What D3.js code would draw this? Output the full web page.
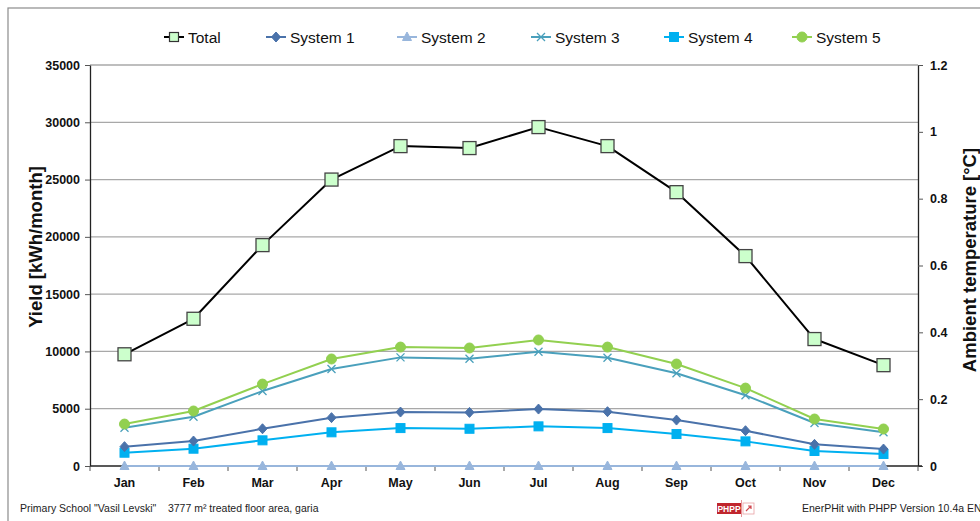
<!DOCTYPE html>
<html>
<head>
<meta charset="utf-8">
<script src="https://cdn.jsdelivr.net/npm/d3@7/dist/d3.min.js"></script>
<style>
  html, body { margin: 0; padding: 0; background: #fff; }
  svg { display: block; font-family: "Liberation Sans", Arial, sans-serif; }
</style>
</head>
<body>
<svg id="chart" width="980" height="521"></svg>
<script>
const months = ["Jan","Feb","Mar","Apr","May","Jun","Jul","Aug","Sep","Oct","Nov","Dec"];
const total   = [9750, 12850, 19280, 25000, 27920, 27750, 29580, 27920, 23900, 18320, 11080, 8800];
const system1 = [1690, 2180, 3250, 4220, 4710, 4680, 4970, 4740, 4010, 3080, 1890, 1480];
const system2 = [0, 0, 0, 0, 0, 0, 0, 0, 0, 0, 0, 0];
const system3 = [3340, 4300, 6540, 8460, 9480, 9360, 9970, 9450, 8090, 6170, 3750, 2940];
const system4 = [1160, 1510, 2240, 2940, 3310, 3250, 3460, 3310, 2790, 2150, 1310, 1050];
const system5 = [3660, 4800, 7150, 9340, 10380, 10300, 11000, 10380, 8900, 6800, 4100, 3230];
const leftTicks = [0, 5000, 10000, 15000, 20000, 25000, 30000, 35000];
const rightTicks = [0, 0.2, 0.4, 0.6, 0.8, 1, 1.2];

const series = [
  {name: "Total",    values: total,   color: "#000000", marker: "bigsquare", fill: "#ccffcc", lw: 2},
  {name: "System 1", values: system1, color: "#4a72aa", marker: "diamond", fill: "#4a72aa", lw: 2},
  {name: "System 2", values: system2, color: "#98b6dc", marker: "triangle", fill: "#98b6dc", lw: 2},
  {name: "System 3", values: system3, color: "#4aa0bc", marker: "x", fill: "none", lw: 2},
  {name: "System 4", values: system4, color: "#00b0f0", marker: "square", fill: "#00b0f0", lw: 2},
  {name: "System 5", values: system5, color: "#92d050", marker: "circle", fill: "#92d050", lw: 2}
];

const svg = d3.select("#chart");
const L = 90, R = 918, T = 65, B = 466;

// outer frame
svg.append("rect").attr("x", 8).attr("y", 8).attr("width", 990).attr("height", 530)
  .attr("fill", "none").attr("stroke", "#8c8c8c").attr("stroke-width", 1.2);

const x = d3.scaleBand().domain(months).range([L, R]).padding(0);
const y = d3.scaleLinear().domain([0, 35000]).range([B, T]);
const y2 = d3.scaleLinear().domain([0, 1.2]).range([B, T]);

// gridlines
svg.append("g").selectAll("line").data(leftTicks.filter(d => d > 0)).join("line")
  .attr("x1", L).attr("x2", R).attr("y1", d => y(d)).attr("y2", d => y(d))
  .attr("stroke", "#a8a8a8").attr("stroke-width", 1.3);

// left axis
const gl = svg.append("g").attr("transform", `translate(${L},0)`)
  .call(d3.axisLeft(y).tickValues(leftTicks).tickFormat(d3.format("d")).tickSizeInner(5).tickSizeOuter(0).tickPadding(5));
gl.select(".domain").attr("stroke", "#222").attr("stroke-width", 1.3);
gl.selectAll(".tick line").attr("stroke", "#555");
gl.selectAll("text").attr("font-size", 12.5).attr("font-weight", "bold").attr("fill", "#111")
  .attr("font-family", "Liberation Sans, Arial, sans-serif");

// right axis
const gr = svg.append("g").attr("transform", `translate(${R},0)`)
  .call(d3.axisRight(y2).tickValues(rightTicks).tickFormat(d => d3.format("")(d)).tickSizeInner(5).tickSizeOuter(0).tickPadding(7));
gr.select(".domain").attr("stroke", "#222").attr("stroke-width", 1.3);
gr.selectAll(".tick line").attr("stroke", "#555");
gr.selectAll("text").attr("font-size", 12.5).attr("font-weight", "bold").attr("fill", "#111")
  .attr("font-family", "Liberation Sans, Arial, sans-serif");

// bottom axis
const xb = d3.scaleLinear().domain([0, 12]).range([L, R]);
svg.append("line").attr("x1", L).attr("x2", R + 4).attr("y1", B).attr("y2", B)
  .attr("stroke", "#222").attr("stroke-width", 1.3);
svg.append("g").selectAll("line").data(d3.range(0, 13)).join("line")
  .attr("x1", d => xb(d)).attr("x2", d => xb(d)).attr("y1", B).attr("y2", B + 5)
  .attr("stroke", "#555").attr("stroke-width", 1);
svg.append("g").selectAll("text").data(months).join("text")
  .attr("x", d => x(d) + x.bandwidth() / 2).attr("y", 487)
  .attr("text-anchor", "middle").attr("font-size", 12.5).attr("font-weight", "bold").attr("fill", "#111")
  .text(d => d);

// axis titles
svg.append("text").attr("transform", "translate(42,247) rotate(-90)")
  .attr("text-anchor", "middle").attr("font-size", 18.5).attr("font-weight", "bold").attr("fill", "#111")
  .text("Yield [kWh/month]");
svg.append("text").attr("transform", "translate(976,260) rotate(-90)")
  .attr("text-anchor", "middle").attr("font-size", 18.5).attr("font-weight", "bold").attr("fill", "#111")
  .text("Ambient temperature [°C]");

function drawMarker(g, type, cx, cy, color, fill) {
  if (type === "bigsquare") {
    g.append("rect").attr("x", cx - 6.5).attr("y", cy - 6.5).attr("width", 13).attr("height", 13)
      .attr("fill", fill).attr("stroke", "#444").attr("stroke-width", 1.3);
  } else if (type === "square") {
    g.append("rect").attr("x", cx - 4.5).attr("y", cy - 4.5).attr("width", 9).attr("height", 9)
      .attr("fill", fill).attr("stroke", color).attr("stroke-width", 1);
  } else if (type === "diamond") {
    g.append("path").attr("d", `M${cx},${cy-5}L${cx+4.5},${cy}L${cx},${cy+5}L${cx-4.5},${cy}Z`)
      .attr("fill", fill).attr("stroke", color);
  } else if (type === "triangle") {
    g.append("path").attr("d", `M${cx},${cy-5}L${cx+4.5},${cy+3.5}L${cx-4.5},${cy+3.5}Z`)
      .attr("fill", fill).attr("stroke", color);
  } else if (type === "x") {
    g.append("path").attr("d", `M${cx-4},${cy-4}L${cx+4},${cy+4}M${cx-4},${cy+4}L${cx+4},${cy-4}`)
      .attr("stroke", color).attr("stroke-width", 1.3).attr("fill", "none");
  } else if (type === "circle") {
    g.append("circle").attr("cx", cx).attr("cy", cy).attr("r", 5).attr("fill", fill).attr("stroke", color);
  }
}

// series (draw in order so Total on top)
const drawOrder = [2, 4, 1, 3, 5, 0];
const line = d3.line().x((d, i) => x(months[i]) + x.bandwidth() / 2).y(d => y(d));
drawOrder.forEach(si => {
  const s = series[si];
  const g = svg.append("g");
  g.append("path").datum(s.values).attr("d", line).attr("fill", "none")
    .attr("stroke", s.color).attr("stroke-width", s.lw).attr("stroke-linejoin", "round");
  s.values.forEach((v, i) => drawMarker(g, s.marker, x(months[i]) + x.bandwidth() / 2, y(v), s.color, s.fill));
});

// legend
const legendX = [174, 276, 407, 541, 674, 802];
series.forEach((s, i) => {
  const g = svg.append("g");
  const cx = legendX[i];
  g.append("line").attr("x1", cx - 10).attr("x2", cx + 10).attr("y1", 37).attr("y2", 37)
    .attr("stroke", s.color).attr("stroke-width", 2);
  if (s.marker === "bigsquare") {
    g.append("rect").attr("x", cx - 4.5).attr("y", 32.5).attr("width", 9).attr("height", 9)
      .attr("fill", s.fill).attr("stroke", "#333").attr("stroke-width", 1.2);
  } else {
    drawMarker(g, s.marker, cx, 37, s.color, s.fill);
  }
  g.append("text").attr("x", cx + 14).attr("y", 42.5).attr("font-size", 15.5).attr("fill", "#111")
    .text(s.name);
});

// footer
svg.append("text").attr("x", 20).attr("y", 512).attr("font-size", 10.5).attr("fill", "#222")
  .attr("xml:space", "preserve")
  .text("Primary School \"Vasil Levski\"    3777 m² treated floor area, garia");
svg.append("text").attr("x", 802).attr("y", 512).attr("font-size", 10.5).attr("fill", "#222")
  .text("EnerPHit with PHPP Version 10.4a EN");
// PHPP logo
svg.append("rect").attr("x", 717).attr("y", 503).attr("width", 24).attr("height", 11).attr("fill", "#c0262d");
svg.append("text").attr("x", 729).attr("y", 512).attr("text-anchor", "middle").attr("font-size", 8.5)
  .attr("font-weight", "bold").attr("fill", "#fff").text("PHPP");
svg.append("rect").attr("x", 743).attr("y", 503).attr("width", 11).attr("height", 11)
  .attr("fill", "#fff").attr("stroke", "#e8a0a4").attr("stroke-width", 0.8);
svg.append("line").attr("x1", 741.5).attr("x2", 741.5).attr("y1", 500).attr("y2", 517).attr("stroke", "#e07a80").attr("stroke-width", 0.8);
svg.append("path").attr("d", "M746,511L751,506M748,506L751,506L751,509").attr("stroke", "#d0484f").attr("stroke-width", 1.2).attr("fill", "none");
</script>
</body>
</html>
